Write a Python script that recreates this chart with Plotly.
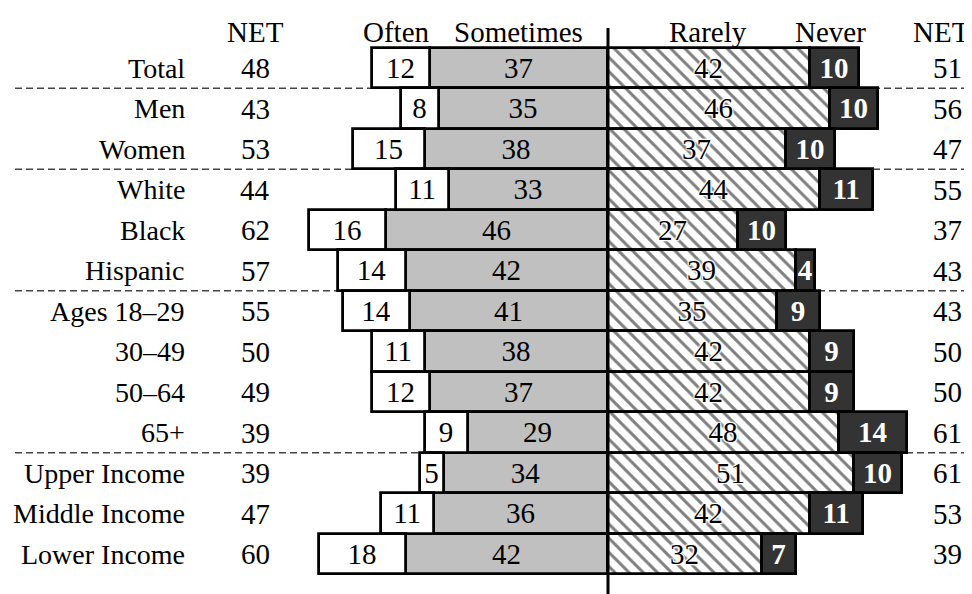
import plotly.graph_objects as go

categories = ["Total", "Men", "Women", "White", "Black", "Hispanic", "Ages 18–29",
              "30–49", "50–64", "65+", "Upper Income", "Middle Income", "Lower Income"]
net_left = [48, 43, 53, 44, 62, 57, 55, 50, 49, 39, 39, 47, 60]
often = [12, 8, 15, 11, 16, 14, 14, 11, 12, 9, 5, 11, 18]
sometimes = [37, 35, 38, 33, 46, 42, 41, 38, 37, 29, 34, 36, 42]
rarely = [42, 46, 37, 44, 27, 39, 35, 42, 42, 48, 51, 42, 32]
never = [10, 10, 10, 11, 10, 4, 9, 9, 9, 14, 10, 11, 7]
net_right = [51, 56, 47, 55, 37, 43, 43, 50, 50, 61, 61, 53, 39]
headers = ["NET", "Often", "Sometimes", "Rarely", "Never", "NET"]
separators_after = ["Total", "Women", "Hispanic", "65+"]

OFF = 8                 # page body margin
W, H = 972 - OFF, 594 - OFF
CX = 608.0 - OFF        # pixel of the zero line (figure coords)
PPU = 4.82              # pixels per percentage point
Y0 = 68.0 - OFF         # pixel center of first row
PITCH = 40.5            # row pitch in pixels

FONT = "Liberation Serif, Times New Roman, serif"
FS = 29
FS_CAT = 28

ys = list(range(len(categories)))
halo = "1px 1px 1px white, -1px -1px 1px white, 1px -1px 1px white, -1px 1px 1px white, 0px 0px 3px white"

fig = go.Figure()
common = dict(orientation="h", width=1.0, textposition="inside", insidetextanchor="middle",
              textangle=0, constraintext="none", cliponaxis=False, hoverinfo="skip")
LW = 2.8

fig.add_trace(go.Bar(y=ys, x=[-v for v in sometimes], text=[str(v) for v in sometimes],
                     marker=dict(color="#c0c0c0", line=dict(color="black", width=LW)),
                     textfont=dict(family=FONT, size=FS, color="black"), name="Sometimes", **common))
fig.add_trace(go.Bar(y=ys, x=[-v for v in often], text=[str(v) for v in often],
                     marker=dict(color="white", line=dict(color="black", width=LW)),
                     textfont=dict(family=FONT, size=FS, color="black"), name="Often", **common))
fig.add_trace(go.Bar(y=ys, x=rarely, text=[str(v) for v in rarely],
                     marker=dict(color="white", line=dict(color="black", width=LW),
                                 pattern=dict(shape="\\", fgcolor="black", bgcolor="white",
                                              size=10, solidity=0.3, fillmode="overlay")),
                     textfont=dict(family=FONT, size=FS, color="black", shadow=halo),
                     name="Rarely", **common))
fig.add_trace(go.Bar(y=ys, x=never, text=[str(v) for v in never],
                     marker=dict(color="#333333", line=dict(color="black", width=LW)),
                     textfont=dict(family=FONT, size=FS, color="white", weight="bold"),
                     name="Never", **common))

def px2x(px):
    return (px - OFF - CX) / PPU

def py2y(py):
    return (py - OFF - Y0) / PITCH

annotations = []
header_px = [255, 396, 518, 708, 830, 941]
for h, p in zip(headers, header_px):
    annotations.append(dict(x=px2x(p), y=py2y(32), xref="x", yref="y", text=h, showarrow=False,
                            xanchor="center", yanchor="middle",
                            font=dict(family=FONT, size=FS, color="black")))
for i, c in enumerate(categories):
    annotations.append(dict(x=px2x(187), y=i, xref="x", yref="y", text=c, showarrow=False,
                            xanchor="right", yanchor="middle",
                            font=dict(family=FONT, size=FS_CAT, color="black")))
    annotations.append(dict(x=px2x(255), y=i, xref="x", yref="y", text=str(net_left[i]),
                            showarrow=False, xanchor="center", yanchor="middle",
                            font=dict(family=FONT, size=FS, color="black")))
    annotations.append(dict(x=px2x(947), y=i, xref="x", yref="y", text=str(net_right[i]),
                            showarrow=False, xanchor="center", yanchor="middle",
                            font=dict(family=FONT, size=FS, color="black")))

shapes = []
for s in separators_after:
    i = categories.index(s)
    shapes.append(dict(type="line", xref="x", yref="y", x0=px2x(15), x1=px2x(972),
                       y0=i + 0.5, y1=i + 0.5, layer="below",
                       line=dict(color="#444444", width=1.5, dash="7px,4px")))
shapes.append(dict(type="line", xref="x", yref="y", x0=0, x1=0, y0=py2y(28), y1=py2y(600),
                   layer="above", line=dict(color="black", width=3)))

fig.update_layout(
    width=W, height=H, margin=dict(l=0, r=0, t=0, b=0),
    paper_bgcolor="white", plot_bgcolor="white",
    barmode="relative", bargap=0, showlegend=False,
    xaxis=dict(range=[px2x(OFF), px2x(OFF + W)], visible=False, fixedrange=True),
    yaxis=dict(range=[py2y(OFF + H), py2y(OFF)], visible=False, fixedrange=True),
    annotations=annotations, shapes=shapes,
    font=dict(family=FONT, size=FS, color="black"),
)

fig.write_html("out.html")
